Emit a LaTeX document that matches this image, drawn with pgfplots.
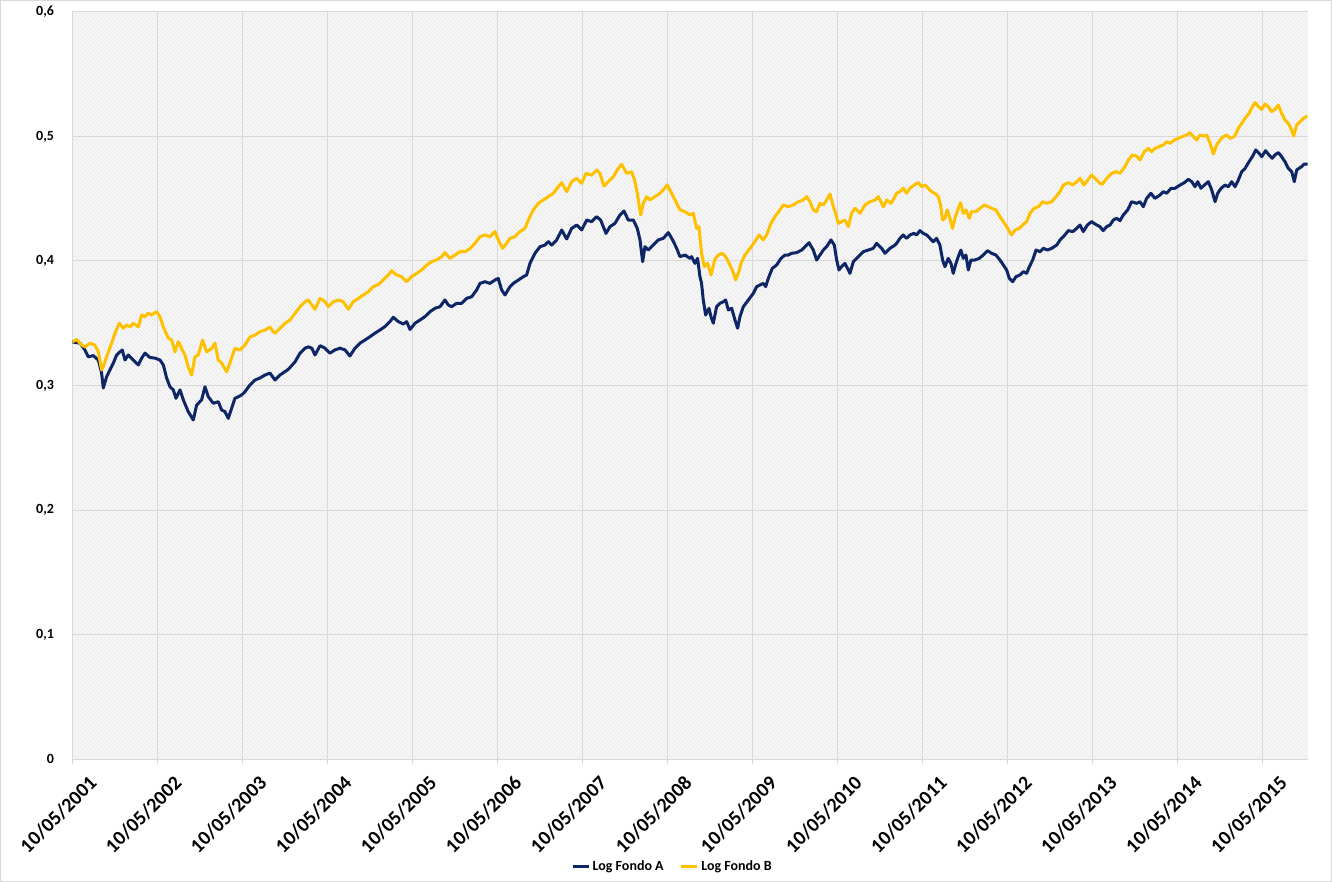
\documentclass[border=0pt]{standalone}
\usepackage{pgfplots}
\pgfplotsset{compat=1.18}
\usepackage{fontspec}
\setmainfont{Carlito}
\usetikzlibrary{patterns}

\definecolor{fondoA}{HTML}{0E2566}
\definecolor{fondoB}{HTML}{FFC000}
\definecolor{griglia}{HTML}{D9D9D9}

\begin{document}
\begin{tikzpicture}
	\begin{axis}[
		scale only axis,
		width=926.6pt, height=560.25pt,
		xmin=0, xmax=14.53,
		ymin=0, ymax=0.6,
		axis x line*=bottom,
		axis y line*=left,
		x axis line style={draw=griglia, line width=0.75pt},
		y axis line style={draw=none},
		axis background/.style={fill=black!3, postaction={pattern=north west lines, pattern color=black!9}},
		grid=major,
		major grid style={draw=griglia, line width=0.75pt},
		xtick={0,1,2,3,4,5,6,7,8,9,10,11,12,13,14},
		xticklabels={10/05/2001,10/05/2002,10/05/2003,10/05/2004,10/05/2005,
			10/05/2006,10/05/2007,10/05/2008,10/05/2009,10/05/2010,
			10/05/2011,10/05/2012,10/05/2013,10/05/2014,10/05/2015},
		ytick={0,0.1,0.2,0.3,0.4,0.5,0.6},
		yticklabels={0,{0,1},{0,2},{0,3},{0,4},{0,5},{0,6}},
		tick align=outside,
		major tick length=4pt,
		x tick style={draw=griglia, line width=0.75pt},
		y tick style={draw=none},
		xticklabel style={font=\bfseries\fontsize{15}{17}\selectfont, rotate=45, anchor=north east, inner sep=0pt, xshift=3pt, yshift=-13.5pt},
		yticklabel style={font=\bfseries\fontsize{10.5}{12}\selectfont, anchor=east, inner sep=0pt, xshift=-9.5pt},
		legend columns=2,
		legend style={draw=none, fill=none, at={(0.486,-0.1445)}, anchor=center,
			font=\bfseries\fontsize{10.5}{12}\selectfont,
			/tikz/every even column/.append style={column sep=10pt}},
		legend image code/.code={\draw[#1] (0pt,0pt) -- (12pt,0pt);},
		]
		\addplot[fondoA, line width=2.25pt, mark=none, line join=round] coordinates {
			(0.000,0.335) (0.091,0.334) (0.149,0.3285) (0.189,0.323) (0.247,0.324) (0.306,0.3205) (0.345,0.310) (0.365,0.298) (0.404,0.307) (0.443,0.3125) (0.483,0.318) (0.522,0.3245) (0.561,0.327) (0.588,0.3285) (0.620,0.3205) (0.659,0.3245) (0.718,0.3205) (0.777,0.3165) (0.816,0.322) (0.855,0.326) (0.914,0.3225) (0.972,0.322) (1.031,0.3205) (1.071,0.3165) (1.110,0.306) (1.149,0.299) (1.188,0.2965) (1.220,0.2897) (1.267,0.2965) (1.306,0.2884) (1.364,0.279) (1.423,0.2723) (1.463,0.2843) (1.521,0.2884) (1.561,0.299) (1.600,0.291) (1.658,0.2857) (1.717,0.287) (1.757,0.2803) (1.796,0.279) (1.835,0.2736) (1.874,0.2817) (1.913,0.2897) (1.953,0.291) (1.992,0.2924) (2.031,0.295) (2.090,0.3004) (2.149,0.3044) (2.207,0.306) (2.266,0.3084) (2.325,0.310) (2.384,0.3044) (2.443,0.3084)
			(2.541,0.313) (2.620,0.319) (2.679,0.326) (2.738,0.330) (2.777,0.331) (2.816,0.330) (2.855,0.3245) (2.914,0.332) (2.972,0.330) (3.031,0.326) (3.090,0.3286) (3.149,0.330) (3.207,0.3286) (3.266,0.3237) (3.325,0.330) (3.384,0.334) (3.442,0.3365) (3.501,0.3392) (3.560,0.342) (3.619,0.3446) (3.677,0.3473) (3.736,0.3513) (3.776,0.3548) (3.835,0.3513) (3.893,0.3494) (3.932,0.3513) (3.972,0.345) (4.031,0.350) (4.089,0.3526) (4.148,0.3553) (4.207,0.3593) (4.266,0.362) (4.325,0.3633) (4.383,0.3687) (4.422,0.3647) (4.462,0.3633) (4.520,0.366) (4.579,0.366) (4.638,0.370) (4.697,0.3713) (4.756,0.3767) (4.795,0.382) (4.854,0.3834)
			(4.912,0.382) (4.971,0.3847) (5.010,0.386) (5.050,0.3767) (5.089,0.3727) (5.148,0.3794) (5.187,0.382) (5.246,0.3847) (5.305,0.3874) (5.344,0.3888) (5.383,0.3981) (5.442,0.4062) (5.501,0.4115) (5.560,0.4128) (5.599,0.4155) (5.638,0.4128) (5.697,0.4169) (5.756,0.4249) (5.815,0.4177) (5.873,0.4262) (5.932,0.4289) (5.991,0.4249) (6.050,0.4329) (6.108,0.4316) (6.167,0.4356) (6.214,0.4329) (6.277,0.4222) (6.324,0.4276) (6.382,0.4302) (6.441,0.4369) (6.488,0.4402) (6.539,0.4329) (6.599,0.4329) (6.645,0.4262) (6.677,0.4169) (6.708,0.3995) (6.735,0.4115) (6.775,0.4088) (6.833,0.4128) (6.892,0.4169) (6.951,0.4182) (7.010,0.4228) (7.061,0.4169) (7.108,0.4102) (7.147,0.4035) (7.206,0.4048) (7.264,0.4021)
			(7.284,0.4035) (7.323,0.3981) (7.354,0.4021) (7.382,0.3874) (7.401,0.382) (7.421,0.3687) (7.449,0.3566) (7.488,0.362) (7.512,0.3553) (7.539,0.35) (7.578,0.3633) (7.617,0.366) (7.657,0.3673) (7.684,0.3687) (7.716,0.3607) (7.755,0.362) (7.794,0.3526) (7.825,0.346) (7.853,0.3553) (7.892,0.3633) (7.951,0.3687) (8.010,0.374) (8.049,0.3794) (8.088,0.3807) (8.127,0.382) (8.155,0.3794) (8.186,0.3861) (8.233,0.3941) (8.284,0.3968) (8.335,0.4021) (8.382,0.4048) (8.421,0.4048) (8.460,0.4062) (8.519,0.4067) (8.578,0.4088) (8.617,0.4115) (8.665,0.4147) (8.715,0.4088) (8.754,0.4008) (8.793,0.4048) (8.833,0.4088) (8.872,0.4115) (8.923,0.4169) (8.962,0.4128) (8.990,0.4008) (9.017,0.3928) (9.048,0.3955) (9.087,0.3981) (9.127,0.3928) (9.146,0.3901) (9.186,0.3995) (9.244,0.4035) (9.303,0.4075) (9.362,0.4088) (9.421,0.4102) (9.460,0.4142) (9.519,0.4102) (9.558,0.4062) (9.617,0.4102) (9.676,0.4128)
			(9.695,0.4142) (9.734,0.4182) (9.773,0.4209) (9.812,0.4182) (9.852,0.4209) (9.899,0.4222) (9.930,0.4209) (9.969,0.4244) (10.008,0.4222) (10.048,0.4209) (10.087,0.4182) (10.126,0.4155) (10.165,0.4182) (10.204,0.4128) (10.236,0.4008) (10.263,0.3954) (10.302,0.4021) (10.334,0.3981) (10.361,0.3901) (10.393,0.3981) (10.420,0.4035) (10.451,0.4088) (10.479,0.4021) (10.510,0.4048) (10.538,0.3928) (10.569,0.4008) (10.616,0.4008) (10.667,0.4021) (10.714,0.4048) (10.765,0.4083) (10.812,0.4062) (10.863,0.4048) (10.910,0.4008) (10.950,0.3968) (10.989,0.3928) (11.020,0.3861) (11.060,0.3834) (11.099,0.3874) (11.146,0.3888) (11.185,0.3914) (11.224,0.3901) (11.256,0.3954) (11.295,0.4008) (11.334,0.4088) (11.381,0.4075) (11.421,0.4102) (11.468,0.4088) (11.519,0.4102) (11.578,0.4128) (11.617,0.4169) (11.656,0.4195) (11.715,0.4244) (11.766,0.4236) (11.813,0.4262) (11.852,0.4289) (11.891,0.4236) (11.938,0.4289) (11.989,0.4316) (12.028,0.4297) (12.086,0.4276)
			(12.125,0.4244) (12.165,0.4276) (12.204,0.4289) (12.243,0.4329) (12.282,0.4343) (12.321,0.4324) (12.361,0.4369) (12.412,0.441) (12.459,0.4476) (12.518,0.4463) (12.557,0.4476) (12.596,0.4436) (12.635,0.4503) (12.686,0.4544) (12.733,0.4503) (12.792,0.453) (12.832,0.4557) (12.871,0.4544) (12.922,0.4584) (12.969,0.4584) (13.028,0.461) (13.079,0.4629) (13.126,0.4656) (13.166,0.4637) (13.205,0.4597) (13.236,0.4637) (13.275,0.4584) (13.314,0.461) (13.361,0.4637) (13.401,0.457) (13.440,0.4476) (13.471,0.4544) (13.511,0.4584) (13.558,0.461) (13.597,0.4597) (13.636,0.4637) (13.675,0.4597) (13.714,0.4651) (13.754,0.4718) (13.793,0.4744) (13.840,0.4798) (13.879,0.4838) (13.918,0.4892) (13.958,0.4865) (13.989,0.4838) (14.034,0.4886) (14.074,0.4852) (14.113,0.4825) (14.145,0.4852) (14.184,0.4871) (14.223,0.4838) (14.262,0.4798) (14.302,0.4744) (14.341,0.4718) (14.372,0.4637) (14.400,0.4731) (14.427,0.4744) (14.458,0.4758) (14.489,0.4779) (14.529,0.4779)
		};
		\addlegendentry{Log Fondo A}
		\addplot[fondoB, line width=2.25pt, mark=none, line join=round] coordinates {
			(0.000,0.335) (0.051,0.337) (0.110,0.3325) (0.149,0.331) (0.208,0.334) (0.267,0.3325) (0.306,0.327) (0.345,0.3125) (0.365,0.315) (0.404,0.323) (0.463,0.334) (0.502,0.342) (0.553,0.350) (0.600,0.346) (0.639,0.3486) (0.678,0.347) (0.718,0.350) (0.777,0.347) (0.816,0.3566) (0.855,0.3553) (0.894,0.358) (0.933,0.3566) (0.992,0.3593) (1.031,0.3553) (1.071,0.347) (1.129,0.338) (1.169,0.3365) (1.208,0.327) (1.247,0.3352) (1.286,0.3298) (1.325,0.3245) (1.364,0.315) (1.404,0.3084) (1.443,0.323) (1.482,0.3245) (1.533,0.3365) (1.580,0.327) (1.639,0.3298) (1.678,0.334) (1.717,0.3205) (1.757,0.318) (1.815,0.311) (1.854,0.318) (1.913,0.3298) (1.972,0.3285) (2.031,0.3325) (2.090,0.339) (2.149,0.3405) (2.207,0.3432) (2.266,0.3445) (2.325,0.347) (2.364,0.3432)
			(2.384,0.342) (2.443,0.346) (2.502,0.350) (2.561,0.3526) (2.620,0.358) (2.679,0.3633) (2.738,0.3673) (2.777,0.3687) (2.816,0.3647) (2.855,0.3612) (2.914,0.370) (2.972,0.3673) (3.012,0.3633) (3.070,0.3673) (3.129,0.3687) (3.188,0.3673) (3.247,0.3612) (3.305,0.3673) (3.364,0.370) (3.423,0.3727) (3.482,0.3753) (3.540,0.3794) (3.599,0.381) (3.658,0.3847) (3.717,0.3888) (3.756,0.3922) (3.815,0.3888) (3.874,0.3874) (3.932,0.3834) (3.991,0.3874) (4.050,0.390) (4.109,0.3928) (4.168,0.3968) (4.226,0.3995) (4.285,0.4008) (4.344,0.4035) (4.383,0.4067) (4.442,0.4021) (4.501,0.4048) (4.560,0.4075) (4.619,0.4075) (4.678,0.410) (4.736,0.4142) (4.795,0.4195) (4.854,0.4209)
			(4.912,0.4195) (4.971,0.4236) (5.010,0.4169) (5.061,0.4102) (5.108,0.4142) (5.148,0.4182) (5.206,0.4195) (5.265,0.4236) (5.324,0.4262) (5.364,0.4329) (5.422,0.441) (5.481,0.4463) (5.540,0.449) (5.599,0.4517) (5.658,0.4544) (5.716,0.4597) (5.756,0.4629) (5.815,0.4557) (5.873,0.4637) (5.932,0.4664) (5.991,0.4624) (6.041,0.4704) (6.108,0.469) (6.167,0.4731) (6.206,0.4704) (6.253,0.4602) (6.304,0.4637) (6.363,0.4677) (6.422,0.4744) (6.461,0.4776) (6.520,0.4704) (6.579,0.4717) (6.618,0.4637) (6.645,0.4544) (6.685,0.437) (6.716,0.4463) (6.755,0.4517) (6.794,0.449) (6.853,0.4517) (6.912,0.4544) (6.951,0.4571) (6.998,0.4611) (7.049,0.4544) (7.108,0.4463) (7.147,0.441) (7.206,0.4396) (7.264,0.437)
			(7.304,0.4383) (7.343,0.4262) (7.370,0.4276) (7.401,0.4062) (7.433,0.3955) (7.472,0.3981) (7.512,0.3888) (7.559,0.4016) (7.598,0.4048) (7.645,0.4062) (7.684,0.4035) (7.724,0.3981) (7.763,0.3928) (7.802,0.3848) (7.833,0.3901) (7.872,0.3995) (7.912,0.4048) (7.971,0.4102) (8.029,0.4155) (8.076,0.4209) (8.127,0.4169) (8.166,0.4209) (8.217,0.4302) (8.264,0.4356) (8.323,0.441) (8.362,0.445) (8.421,0.4436) (8.480,0.445) (8.539,0.4476) (8.597,0.449) (8.637,0.4517) (8.676,0.4476) (8.715,0.441) (8.754,0.4396) (8.793,0.4463) (8.833,0.445) (8.872,0.449) (8.911,0.4538) (8.951,0.4436) (8.978,0.4383) (9.009,0.4302) (9.048,0.4316) (9.087,0.4329) (9.127,0.4276) (9.166,0.4383) (9.205,0.4423) (9.264,0.4383) (9.323,0.445) (9.382,0.4476) (9.441,0.449) (9.480,0.4517) (9.539,0.4436) (9.578,0.449) (9.629,0.4463) (9.676,0.4517)
			(9.695,0.4544) (9.734,0.4557) (9.773,0.4584) (9.812,0.4544) (9.852,0.4584) (9.899,0.461) (9.950,0.4629) (9.989,0.4597) (10.028,0.461) (10.067,0.4584) (10.106,0.4557) (10.145,0.4544) (10.185,0.4517) (10.212,0.445) (10.236,0.4329) (10.263,0.4343) (10.291,0.441) (10.322,0.4343) (10.353,0.4262) (10.381,0.4343) (10.420,0.4423) (10.447,0.4468) (10.479,0.4383) (10.510,0.441) (10.549,0.4343) (10.577,0.4396) (10.628,0.4396) (10.675,0.4423) (10.726,0.445) (10.773,0.4436) (10.812,0.4423) (10.863,0.441) (10.910,0.4356) (10.950,0.4316) (10.989,0.4276) (11.020,0.4236) (11.048,0.4209) (11.087,0.4249) (11.138,0.4262) (11.177,0.4289) (11.224,0.4316) (11.264,0.4383) (11.311,0.4423) (11.362,0.4436) (11.413,0.4476) (11.460,0.4463) (11.519,0.4476) (11.570,0.4517) (11.617,0.4557) (11.656,0.461) (11.715,0.4629) (11.766,0.461) (11.813,0.4637) (11.852,0.4664) (11.899,0.461) (11.950,0.4656) (11.989,0.4691) (12.028,0.4664) (12.086,0.4624)
			(12.113,0.4616) (12.165,0.4664) (12.223,0.4704) (12.282,0.4718) (12.321,0.4704) (12.380,0.4758) (12.420,0.4811) (12.467,0.4851) (12.518,0.4843) (12.557,0.4811) (12.608,0.4878) (12.655,0.4905) (12.694,0.4878) (12.733,0.4905) (12.780,0.4918) (12.832,0.4932) (12.871,0.4958) (12.910,0.4945) (12.961,0.4972) (13.008,0.4985) (13.055,0.4999) (13.106,0.5012) (13.146,0.5031) (13.185,0.4999) (13.224,0.4972) (13.263,0.5012) (13.303,0.5004) (13.342,0.5012) (13.381,0.4945) (13.420,0.4859) (13.459,0.4932) (13.499,0.4972) (13.538,0.4999) (13.577,0.5012) (13.616,0.4985) (13.667,0.4999) (13.714,0.5066) (13.754,0.5106) (13.793,0.5146) (13.840,0.5186) (13.879,0.524) (13.911,0.5272) (13.950,0.524) (13.989,0.5218) (14.028,0.5261) (14.067,0.524) (14.106,0.52) (14.145,0.5218) (14.184,0.5253) (14.223,0.5186) (14.262,0.5133) (14.302,0.5106) (14.341,0.5052) (14.364,0.5004) (14.400,0.5093) (14.439,0.5119) (14.478,0.5146) (14.529,0.5165)
		};
		\addlegendentry{Log Fondo B}
	\end{axis}
	\pgfresetboundingbox
	\useasboundingbox ([shift={(-54.2pt,-92.25pt)}]current axis.south west) rectangle ([shift={(18.2pt,9pt)}]current axis.north east);
	\draw[griglia, line width=0.75pt] ([shift={(-53.6pt,-91.65pt)}]current axis.south west) rectangle ([shift={(17.6pt,8.4pt)}]current axis.north east);
\end{tikzpicture}
\end{document}
